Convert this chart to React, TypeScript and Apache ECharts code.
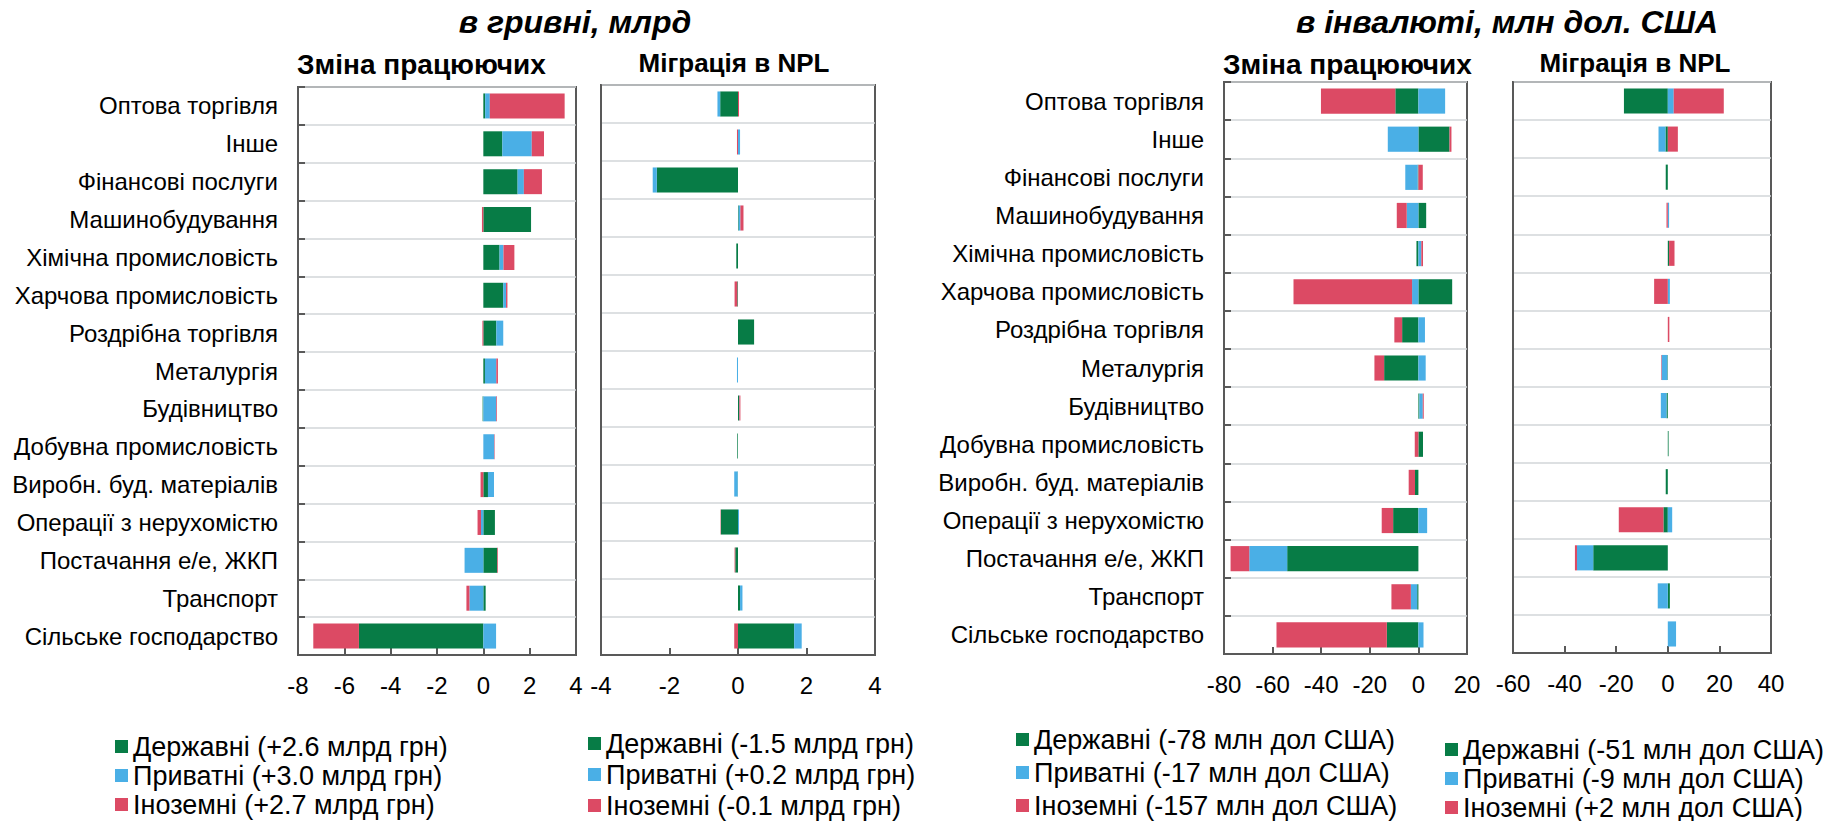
import React, { useEffect, useRef } from 'react';
import * as echarts from 'echarts';

const FONT = "'Liberation Sans', Arial, Helvetica, sans-serif";

const CATEGORIES = [
  'Оптова торгівля',
  'Інше',
  'Фінансові послуги',
  'Машинобудування',
  'Хімічна промисловість',
  'Харчова промисловість',
  'Роздрібна торгівля',
  'Металургія',
  'Будівництво',
  'Добувна промисловість',
  'Виробн. буд. матеріалів',
  'Операції з нерухомістю',
  'Постачання е/е, ЖКП',
  'Транспорт',
  'Сільське господарство',
];

// UAH, bn — change in borrowers
const UAH_CHANGE_GOV = [0.08, 0.82, 1.48, 2.06, 0.7, 0.86, 0.56, 0.07, -0.03, 0.0, 0.2, 0.5, 0.6, 0.1, -5.37];
const UAH_CHANGE_PRIV = [0.2, 1.27, 0.27, 0.0, 0.17, 0.12, 0.3, 0.49, 0.56, 0.47, 0.26, -0.1, -0.81, -0.6, 0.55];
const UAH_CHANGE_FOR = [3.23, 0.53, 0.78, -0.06, 0.47, 0.06, -0.04, 0.07, 0.03, 0.02, -0.12, -0.15, 0.03, -0.13, -1.97];
const UAH_CHANGE_TICKS = [-8, -6, -4, -2, 0, 2, 4];
const UAH_CHANGE_NAMES = ['Державні (+2.6 млрд грн)', 'Приватні (+3.0 млрд грн)', 'Іноземні (+2.7 млрд грн)'];

// UAH, bn — migration to NPL
const UAH_NPL_GOV = [-0.52, 0.0, -2.37, 0.02, -0.05, -0.02, 0.47, 0.0, 0.03, -0.02, -0.01, -0.5, -0.08, 0.06, 1.64];
const UAH_NPL_PRIV = [-0.08, 0.06, -0.12, 0.05, 0.0, 0.0, 0.0, -0.03, 0.01, 0.0, -0.1, 0.03, 0.0, 0.07, 0.22];
const UAH_NPL_FOR = [0.03, -0.03, 0.0, 0.09, 0.0, -0.08, 0.0, 0.0, 0.03, 0.0, 0.0, -0.01, -0.02, 0.0, -0.11];
const UAH_NPL_TICKS = [-4, -2, 0, 2, 4];
const UAH_NPL_NAMES = ['Державні (-1.5 млрд грн)', 'Приватні (+0.2 млрд грн)', 'Іноземні (-0.1 млрд грн)'];

// FX, USD m — change in borrowers
const USD_CHANGE_GOV = [-9.5, 12.8, -0.3, 3.2, -0.8, 13.9, -6.7, -14.1, 0.4, 1.9, -1.4, -10.4, -54.0, -0.5, -13.0];
const USD_CHANGE_PRIV = [11.0, -12.6, -5.1, -4.8, 1.2, -2.6, 2.7, 3.0, 1.4, 0.0, 0.0, 3.6, -15.6, -2.6, 2.1];
const USD_CHANGE_FOR = [-30.6, 0.8, 1.8, -4.1, 0.7, -48.8, -3.2, -4.0, 0.4, -1.5, -2.6, -4.7, -7.7, -8.0, -45.4];
const USD_CHANGE_TICKS = [-80, -60, -40, -20, 0, 20];
const USD_CHANGE_NAMES = ['Державні (-78 млн дол США)', 'Приватні (-17 млн дол США)', 'Іноземні (-157 млн дол США)'];

// FX, USD m — migration to NPL
const USD_NPL_GOV = [-17.0, -0.9, -0.8, 0.0, 0.5, 0.0, 0.0, -0.2, -0.5, 0.3, -0.8, -1.7, -28.9, 0.8, 0.0];
const USD_NPL_PRIV = [2.3, -2.7, 0.0, 0.5, 0.0, 0.8, 0.0, -2.2, -2.2, 0.0, 0.0, 1.7, -6.3, -3.9, 3.2];
const USD_NPL_FOR = [19.4, 3.9, 0.0, -0.5, 2.1, -5.3, 0.6, -0.2, 0.0, 0.0, 0.0, -17.3, -0.8, 0.0, 0.0];
const USD_NPL_TICKS = [-60, -40, -20, 0, 20, 40];
const USD_NPL_NAMES = ['Державні (-51 млн дол США)', 'Приватні (-9 млн дол США)', 'Іноземні (+2 млн дол США)'];

const COLORS = ['#077C46', '#4AAFE6', '#DC4A64'];
const FRAME = '#595959';

const PANELS = [
  {
    grid: { left: 298, top: 87, width: 278, height: 568 },
    ticks: UAH_CHANGE_TICKS,
    series: [UAH_CHANGE_GOV, UAH_CHANGE_PRIV, UAH_CHANGE_FOR],
    names: UAH_CHANGE_NAMES,
    cats: true,
    legend: { left: 115, top: 733, itemGap: 2 },
  },
  {
    grid: { left: 601, top: 85, width: 274, height: 570 },
    ticks: UAH_NPL_TICKS,
    series: [UAH_NPL_GOV, UAH_NPL_PRIV, UAH_NPL_FOR],
    names: UAH_NPL_NAMES,
    cats: false,
    legend: { left: 588, top: 730, itemGap: 4 },
  },
  {
    grid: { left: 1224, top: 82, width: 243, height: 572 },
    ticks: USD_CHANGE_TICKS,
    series: [USD_CHANGE_GOV, USD_CHANGE_PRIV, USD_CHANGE_FOR],
    names: USD_CHANGE_NAMES,
    cats: true,
    legend: { left: 1016, top: 726, itemGap: 6 },
  },
  {
    grid: { left: 1513, top: 82, width: 258, height: 571 },
    ticks: USD_NPL_TICKS,
    series: [USD_NPL_GOV, USD_NPL_PRIV, USD_NPL_FOR],
    names: USD_NPL_NAMES,
    cats: false,
    legend: { left: 1445, top: 736, itemGap: 2 },
  },
];

function buildOption() {
  const lineStyle = { color: FRAME, width: 2 };
  const grid = PANELS.map((p) => ({
    ...p.grid,
    show: true,
    borderColor: FRAME,
    borderWidth: 2,
    backgroundColor: 'transparent',
    containLabel: false,
  }));
  const xAxis = PANELS.map((p, i) => ({
    type: 'value',
    gridIndex: i,
    min: p.ticks[0],
    max: p.ticks[p.ticks.length - 1],
    interval: p.ticks[1] - p.ticks[0],
    axisLine: { show: true, onZero: false, lineStyle },
    axisTick: { show: true, inside: true, length: 7, lineStyle },
    axisLabel: { color: '#000', fontSize: 24, fontFamily: FONT, margin: 18 },
    splitLine: { show: false },
  }));
  const yAxis = PANELS.map((p, i) => ({
    type: 'category',
    gridIndex: i,
    data: CATEGORIES,
    inverse: true,
    axisLine: { show: true, onZero: false, lineStyle },
    axisTick: { show: p.cats, inside: true, length: 7, lineStyle },
    axisLabel: { show: p.cats, color: '#000', fontSize: 24, fontFamily: FONT, margin: 20 },
    splitLine: { show: true, lineStyle: { color: '#d2d6d8', width: 1.5 } },
  }));
  const series: any[] = [];
  PANELS.forEach((p, i) => {
    p.series.forEach((data, k) => {
      series.push({
        type: 'bar',
        name: p.names[k],
        stack: 'panel' + i,
        xAxisIndex: i,
        yAxisIndex: i,
        data,
        barWidth: '66%',
        itemStyle: { color: COLORS[k] },
        emphasis: { disabled: true },
      });
    });
  });
  const legend = PANELS.map((p) => ({
    orient: 'vertical',
    left: p.legend.left,
    top: p.legend.top,
    height: 160,
    padding: 0,
    itemGap: p.legend.itemGap,
    itemWidth: 13,
    itemHeight: 13,
    icon: 'rect',
    selectedMode: false,
    data: p.names,
    textStyle: { color: '#000', fontSize: 27, lineHeight: 26, fontFamily: FONT },
  }));
  const textEl = (text: string, x: number, y: number, font: string, align: string) => ({
    type: 'text',
    x,
    y,
    silent: true,
    style: { text, font, fill: '#000', align, verticalAlign: 'middle' },
  });
  const titleFont = `italic bold 32px ${FONT}`;
  const subFont = `bold 28px ${FONT}`;
  const subFont2 = `bold 26px ${FONT}`;
  const graphic = [
    textEl('в гривні, млрд', 575, 22, titleFont, 'center'),
    textEl('в інвалюті, млн дол. США', 1507, 22, titleFont, 'center'),
    textEl('Зміна працюючих', 297, 64, subFont, 'left'),
    textEl('Міграція в NPL', 734, 63, subFont2, 'center'),
    textEl('Зміна працюючих', 1223, 64, subFont, 'left'),
    textEl('Міграція в NPL', 1635, 63, subFont2, 'center'),
  ];
  return {
    animation: false,
    backgroundColor: '#fff',
    textStyle: { fontFamily: FONT },
    grid,
    xAxis,
    yAxis,
    series,
    legend,
    graphic,
    tooltip: { show: false },
  };
}

export default function App() {
  const ref = useRef<HTMLDivElement>(null);
  useEffect(() => {
    document.body.style.margin = '0';
    const chart = echarts.init(ref.current as HTMLDivElement, null, { renderer: 'svg' });
    chart.setOption(buildOption() as any);
    return () => {
      chart.dispose();
    };
  }, []);
  return <div ref={ref} style={{ width: 1826, height: 821 }} />;
}
